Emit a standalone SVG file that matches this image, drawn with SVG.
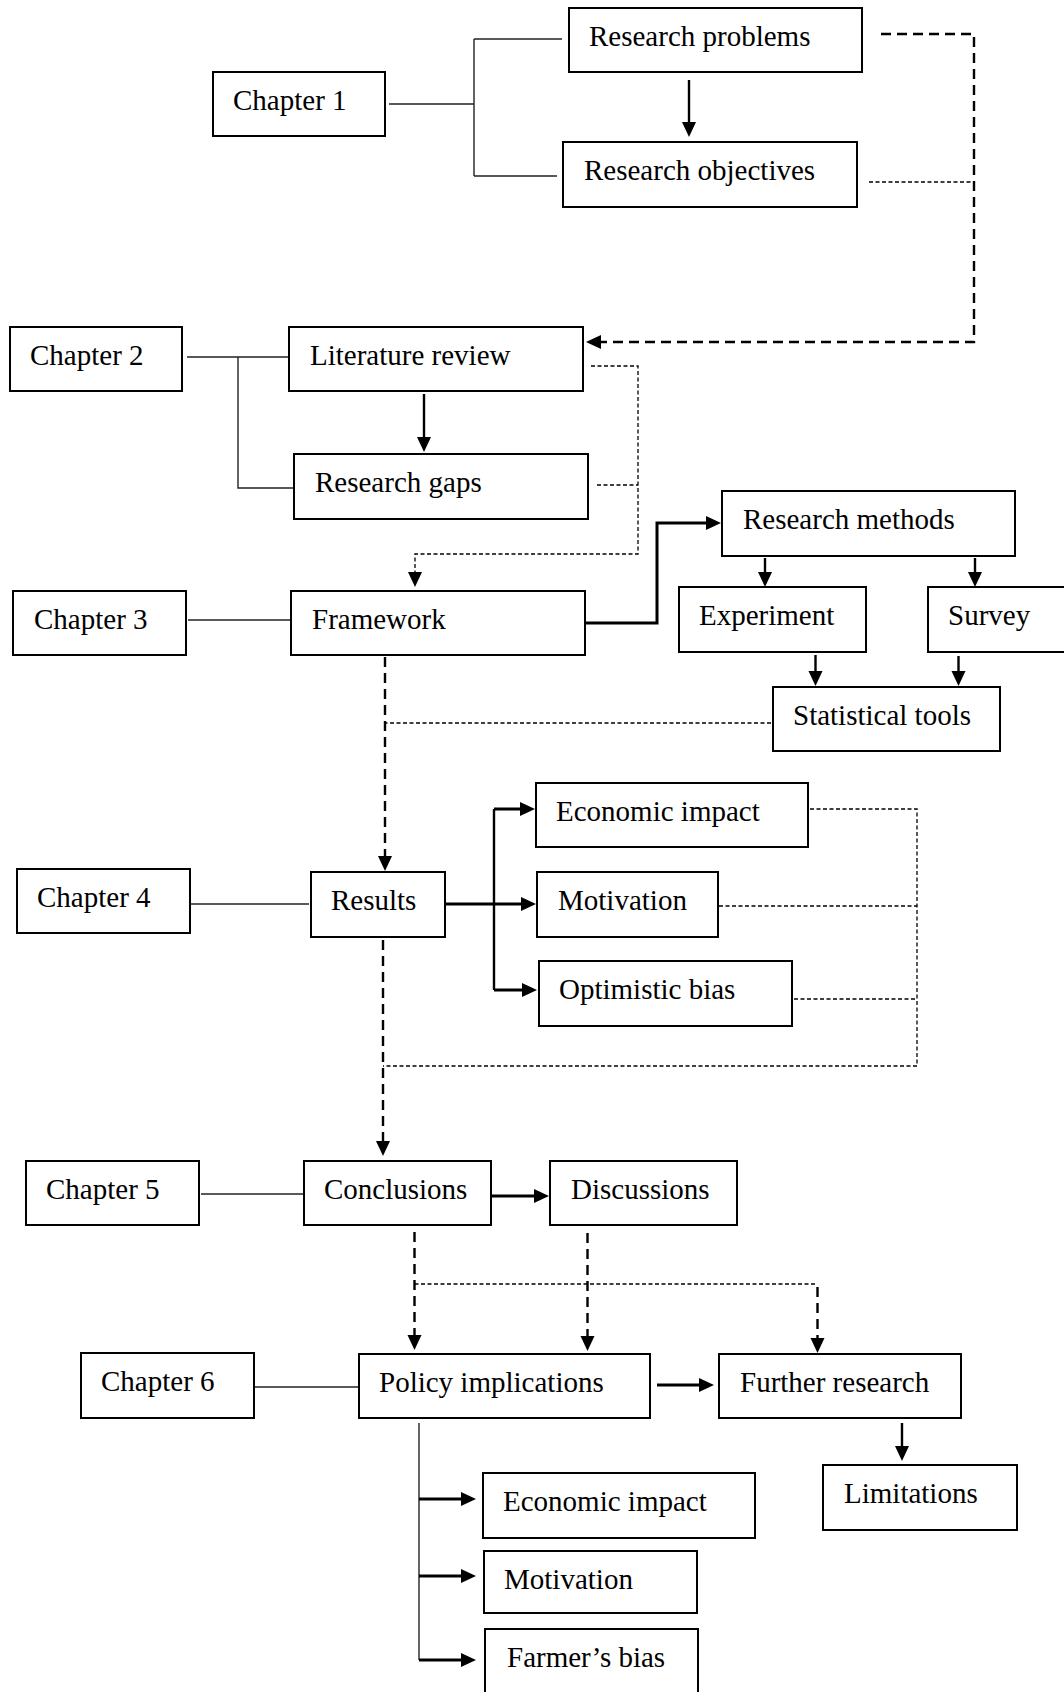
<svg xmlns="http://www.w3.org/2000/svg" width="1064" height="1692" viewBox="0 0 1064 1692">
  <style>
    .box { fill: #fff; stroke: #000; stroke-width: 2; }
    .lbl { font-family: "Liberation Serif", "Times New Roman", serif; font-size: 29px; fill: #000; }
    .thin { fill: none; stroke: #222; stroke-width: 1.4; }
    .solid { fill: none; stroke: #000; stroke-width: 2.4; }
    .thick { fill: none; stroke: #000; stroke-width: 3; }
    .dash { fill: none; stroke: #000; stroke-width: 2.4; stroke-dasharray: 10 6; }
    .dot { fill: none; stroke: #000; stroke-width: 1.3; stroke-dasharray: 4 2.5; }
  </style>
  <defs>
    <marker id="ah" markerUnits="userSpaceOnUse" markerWidth="16" markerHeight="16" refX="10" refY="7" orient="auto">
      <path d="M0,0 L15,7 L0,14 Z" fill="#000"/>
    </marker>
  </defs>

  <rect width="1064" height="1692" fill="#fff"/>

  <!-- connectors -->
  <g id="connectors">
    <!-- chapter 1 -->
    <path class="thin" d="M389,104 H474 M474,39 V176 M474,39 H562 M474,176 H557"/>
    <path class="solid" d="M689,80 V132" marker-end="url(#ah)"/>
    <path class="dash" d="M881,34 H974 V342 H591" marker-end="url(#ah)"/>
    <path class="dot" d="M869,182 H974"/>
    <!-- chapter 2 -->
    <path class="thin" d="M187,357 H288 M238,357 V488 H293"/>
    <path class="solid" d="M424,394 V447" marker-end="url(#ah)"/>
    <path class="dot" d="M591,366 H638 V554 H415 V582" marker-end="url(#ah)"/>
    <path class="dot" d="M597,485 H638"/>
    <!-- chapter 3 -->
    <path class="thin" d="M188,620 H290"/>
    <path class="thick" d="M585,623 H657 V523 H716" marker-end="url(#ah)"/>
    <path class="solid" d="M765,558 V582" marker-end="url(#ah)"/>
    <path class="solid" d="M975,558 V582" marker-end="url(#ah)"/>
    <path class="solid" d="M815.5,655 V681" marker-end="url(#ah)"/>
    <path class="solid" d="M958.5,656 V681" marker-end="url(#ah)"/>
    <path class="dot" d="M771,723 H385"/>
    <path class="dash" d="M385,657 V866" marker-end="url(#ah)"/>
    <!-- chapter 4 -->
    <path class="thin" d="M191,904 H309"/>
    <path class="thick" d="M445,904 H531" marker-end="url(#ah)"/>
    <path class="solid" d="M494,809 V990"/>
    <path class="thick" d="M494,809 H530" marker-end="url(#ah)"/>
    <path class="thick" d="M494,990 H532" marker-end="url(#ah)"/>
    <path class="dot" d="M810,809 H917 V1066 H383"/>
    <path class="dot" d="M719,906 H917"/>
    <path class="dot" d="M794,999 H917"/>
    <path class="dash" d="M383,940 V1151" marker-end="url(#ah)"/>
    <!-- chapter 5 -->
    <path class="thin" d="M201,1194 H304"/>
    <path class="thick" d="M492,1196 H544" marker-end="url(#ah)"/>
    <path class="dash" d="M414.5,1232 V1345" marker-end="url(#ah)"/>
    <path class="dash" d="M587.5,1233 V1346" marker-end="url(#ah)"/>
    <path class="dot" d="M414.5,1284 H817.5"/>
    <path class="dash" d="M817.5,1287 V1348" marker-end="url(#ah)"/>
    <!-- chapter 6 -->
    <path class="thin" d="M255,1387 H358"/>
    <path class="thick" d="M657,1385 H709" marker-end="url(#ah)"/>
    <path class="thin" d="M419,1423 V1660"/>
    <path class="thick" d="M419,1499 H471" marker-end="url(#ah)"/>
    <path class="thick" d="M419,1576 H471" marker-end="url(#ah)"/>
    <path class="thick" d="M419,1660 H471" marker-end="url(#ah)"/>
    <path class="solid" d="M902,1423 V1456" marker-end="url(#ah)"/>
  </g>

  <!-- chapter 1 -->
  <g id="chapter1"><rect class="box" x="213" y="72" width="172" height="64"/><text class="lbl" x="233" y="110">Chapter 1</text></g>
  <g id="research-problems"><rect class="box" x="569" y="8" width="293" height="64"/><text class="lbl" x="589" y="46">Research problems</text></g>
  <g id="research-objectives"><rect class="box" x="563" y="142" width="294" height="65"/><text class="lbl" x="584" y="180">Research objectives</text></g>

  <!-- chapter 2 -->
  <g id="chapter2"><rect class="box" x="10" y="327" width="172" height="64"/><text class="lbl" x="30" y="365">Chapter 2</text></g>
  <g id="literature-review"><rect class="box" x="289" y="327" width="294" height="64"/><text class="lbl" x="310" y="365">Literature review</text></g>
  <g id="research-gaps"><rect class="box" x="294" y="454" width="294" height="65"/><text class="lbl" x="315" y="492">Research gaps</text></g>

  <!-- chapter 3 -->
  <g id="chapter3"><rect class="box" x="13" y="591" width="173" height="64"/><text class="lbl" x="34" y="629">Chapter 3</text></g>
  <g id="framework"><rect class="box" x="291" y="591" width="294" height="64"/><text class="lbl" x="312" y="629">Framework</text></g>
  <g id="research-methods"><rect class="box" x="722" y="491" width="293" height="65"/><text class="lbl" x="743" y="529">Research methods</text></g>
  <g id="experiment"><rect class="box" x="679" y="587" width="187" height="65"/><text class="lbl" x="699" y="625">Experiment</text></g>
  <g id="survey"><rect class="box" x="928" y="587" width="142" height="65"/><text class="lbl" x="948" y="625">Survey</text></g>
  <g id="statistical-tools"><rect class="box" x="773" y="687" width="227" height="64"/><text class="lbl" x="793" y="725">Statistical tools</text></g>

  <!-- chapter 4 -->
  <g id="chapter4"><rect class="box" x="17" y="869" width="173" height="64"/><text class="lbl" x="37" y="907">Chapter 4</text></g>
  <g id="results"><rect class="box" x="311" y="872" width="134" height="65"/><text class="lbl" x="331" y="910">Results</text></g>
  <g id="economic-impact-4"><rect class="box" x="536" y="783" width="272" height="64"/><text class="lbl" x="556" y="821">Economic impact</text></g>
  <g id="motivation-4"><rect class="box" x="537" y="872" width="181" height="65"/><text class="lbl" x="558" y="910">Motivation</text></g>
  <g id="optimistic-bias"><rect class="box" x="539" y="961" width="253" height="65"/><text class="lbl" x="559" y="999">Optimistic bias</text></g>

  <!-- chapter 5 -->
  <g id="chapter5"><rect class="box" x="26" y="1161" width="173" height="64"/><text class="lbl" x="46" y="1199">Chapter 5</text></g>
  <g id="conclusions"><rect class="box" x="304" y="1161" width="187" height="64"/><text class="lbl" x="324" y="1199">Conclusions</text></g>
  <g id="discussions"><rect class="box" x="550" y="1161" width="187" height="64"/><text class="lbl" x="571" y="1199">Discussions</text></g>

  <!-- chapter 6 -->
  <g id="chapter6"><rect class="box" x="81" y="1353" width="173" height="65"/><text class="lbl" x="101" y="1391">Chapter 6</text></g>
  <g id="policy-implications"><rect class="box" x="359" y="1354" width="291" height="64"/><text class="lbl" x="379" y="1392">Policy implications</text></g>
  <g id="further-research"><rect class="box" x="719" y="1354" width="242" height="64"/><text class="lbl" x="740" y="1392">Further research</text></g>
  <g id="limitations"><rect class="box" x="823" y="1465" width="194" height="65"/><text class="lbl" x="844" y="1503">Limitations</text></g>
  <g id="economic-impact-6"><rect class="box" x="483" y="1473" width="272" height="65"/><text class="lbl" x="503" y="1511">Economic impact</text></g>
  <g id="motivation-6"><rect class="box" x="484" y="1551" width="213" height="62"/><text class="lbl" x="504" y="1589">Motivation</text></g>
  <g id="farmers-bias"><rect class="box" x="485" y="1629" width="213" height="70"/><text class="lbl" x="507" y="1667">Farmer’s bias</text></g>
</svg>
